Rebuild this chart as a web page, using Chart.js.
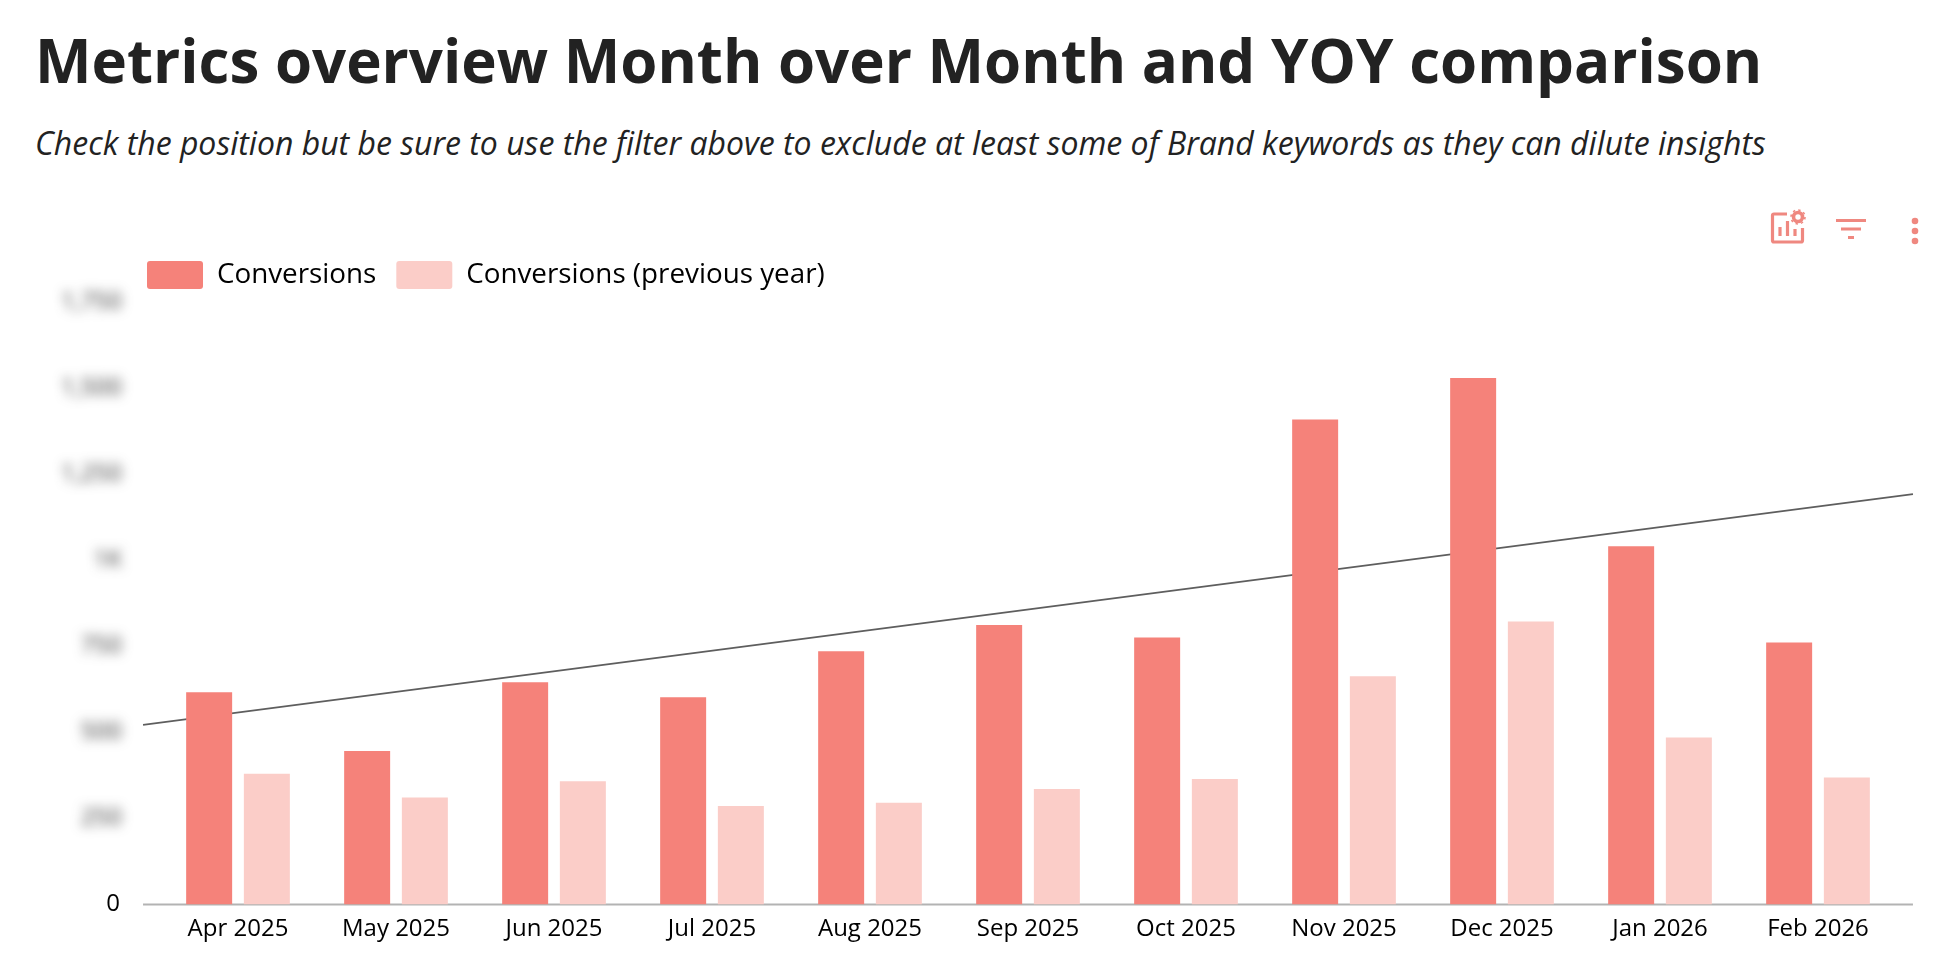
<!DOCTYPE html>
<html lang="en">
<head>
    <meta charset="UTF-8">
    <title>Metrics overview</title>
    <style>
        body { margin: 0; background: #fff; width: 1960px; height: 974px; overflow: hidden; font-family: "Open Sans", sans-serif; }
        h1 { position: absolute; left: 35px; top: 18px; margin: 0; font-size: 60px; line-height: 84px; font-weight: 700; color: #222; white-space: nowrap; }
        p { position: absolute; left: 35px; top: 122px; margin: 0; font-size: 32px; line-height: 42px; font-style: italic; color: #222; white-space: nowrap; }
        #chart-box { position: absolute; left: 0; top: 244px; width: 1960px; height: 706px; }
        #icons { position: absolute; left: 1760px; top: 200px; }
    </style>
</head>
<body>
<h1>Metrics overview Month over Month and YOY comparison</h1>
<p>Check the position but be sure to use the filter above to exclude at least some of Brand keywords as they can dilute insights</p>

<svg id="icons" width="180" height="60" viewBox="0 0 180 60" fill="none" stroke="#ef8880" stroke-width="3.2">
    <!-- chart settings -->
    <path d="M27 14 H14 a1.5 1.5 0 0 0 -1.5 1.5 V40.5 a1.5 1.5 0 0 0 1.5 1.5 H41 a1.5 1.5 0 0 0 1.5 -1.5 V28"/>
    <path d="M20 36 V27 M27.5 36 V21 M35 36 V29"/>
    <circle cx="38" cy="17" r="4.5" stroke-width="3.6"/>
    <circle cx="38" cy="17" r="7" stroke-width="1.6" stroke-dasharray="2.4 3.1"/>
    <!-- filter -->
    <path d="M76 20.5 H106 M81 29 H101 M88 37.5 H94" stroke-width="3"/>
    <!-- more -->
    <g fill="#ef8880" stroke="none">
        <circle cx="155" cy="21" r="3.3"/>
        <circle cx="155" cy="31" r="3.3"/>
        <circle cx="155" cy="41" r="3.3"/>
    </g>
</svg>

<div id="chart-box"><canvas id="conversions"></canvas></div>

<script src="https://cdnjs.cloudflare.com/ajax/libs/Chart.js/4.4.1/chart.umd.js"></script>
<script>
const months = ["Apr 2025", "May 2025", "Jun 2025", "Jul 2025", "Aug 2025", "Sep 2025", "Oct 2025", "Nov 2025", "Dec 2025", "Jan 2026", "Feb 2026"];
const conversions = [617, 446, 646, 602, 736, 812, 776, 1409, 1529, 1041, 761];
const previousYear = [380, 311, 358, 286, 296, 336, 365, 663, 822, 485, 369];
// the trend and the base line overrun the first and last month, in month index units
const lineEnds = [-0.601, 10.601];
const trend = [522, 1192];
const baseline = [0, 0];
const tickValues = [0, 250, 500, 750, 1000, 1250, 1500, 1750];
const tickLabels = ["0", "250", "500", "750", "1K", "1,250", "1,500", "1,750"];

Chart.defaults.font.family = "'Open Sans', sans-serif";
Chart.defaults.font.size = 24;
Chart.defaults.color = "#000";

const toPoints = values => lineEnds.map((x, i) => ({ x, y: values[i] }));
const labelFor = value => tickLabels[tickValues.indexOf(value)];

// Legend starts over the plot instead of the canvas edge, y labels are blurred out except 0
const chartTweaks = {
    id: "chartTweaks",
    afterLayout(chart) {
        chart.legend.left = 127;
        chart.legend.top = -3;
    },
    afterDraw(chart) {
        const { ctx, scales } = chart;
        ctx.save();
        ctx.filter = "blur(6px)";
        ctx.font = "24px 'Open Sans'";
        ctx.textAlign = "right";
        ctx.textBaseline = "middle";
        ctx.fillStyle = "#333";
        for (const value of tickValues) {
            if (value === 0) continue;
            ctx.fillText(labelFor(value), 122, scales.y.getPixelForValue(value));
        }
        ctx.restore();
    },
};

new Chart("conversions", {
    type: "bar",
    data: {
        labels: months,
        datasets: [
            {
                label: "Conversions",
                data: conversions,
                backgroundColor: "#f5827a",
                categoryPercentage: 0.7304,
                barPercentage: 0.797,
                order: 1,
            },
            {
                label: "Conversions (previous year)",
                data: previousYear,
                backgroundColor: "#fbcdc8",
                categoryPercentage: 0.7304,
                barPercentage: 0.797,
                order: 1,
            },
            {
                type: "line",
                label: "Trend",
                data: toPoints(trend),
                parsing: false,
                borderColor: "#5e5e5e",
                borderWidth: 1.6,
                pointRadius: 0,
                clip: false,
                order: 2,
            },
            {
                type: "line",
                label: "Baseline",
                data: toPoints(baseline),
                parsing: false,
                borderColor: "#b3b3b3",
                borderWidth: 2,
                pointRadius: 0,
                clip: false,
                order: 3,
            },
        ],
    },
    options: {
        responsive: true,
        maintainAspectRatio: false,
        animation: false,
        layout: { padding: { right: 63 } },
        plugins: {
            tooltip: { enabled: false },
            legend: {
                position: "top",
                align: "start",
                maxHeight: 64,
                labels: {
                    boxWidth: 56,
                    boxHeight: 28,
                    padding: 20,
                    useBorderRadius: true,
                    borderRadius: 3,
                    font: { size: 27.8 },
                    filter: item => item.datasetIndex < 2,
                },
            },
        },
        scales: {
            x: {
                grid: { display: false },
                border: { display: false },
                ticks: { padding: 2, autoSkip: false, maxRotation: 0 },
            },
            y: {
                min: 0,
                max: 1750,
                grid: { display: false },
                border: { display: false },
                afterFit: scale => { scale.width = 159; },
                afterBuildTicks: scale => { scale.ticks = tickValues.map(value => ({ value })); },
                ticks: {
                    padding: 31,
                    callback: labelFor,
                    color: ctx => (ctx.tick.value === 0 ? "#000" : "transparent"),
                },
            },
        },
    },
    plugins: [chartTweaks],
});
</script>
</body>
</html>
